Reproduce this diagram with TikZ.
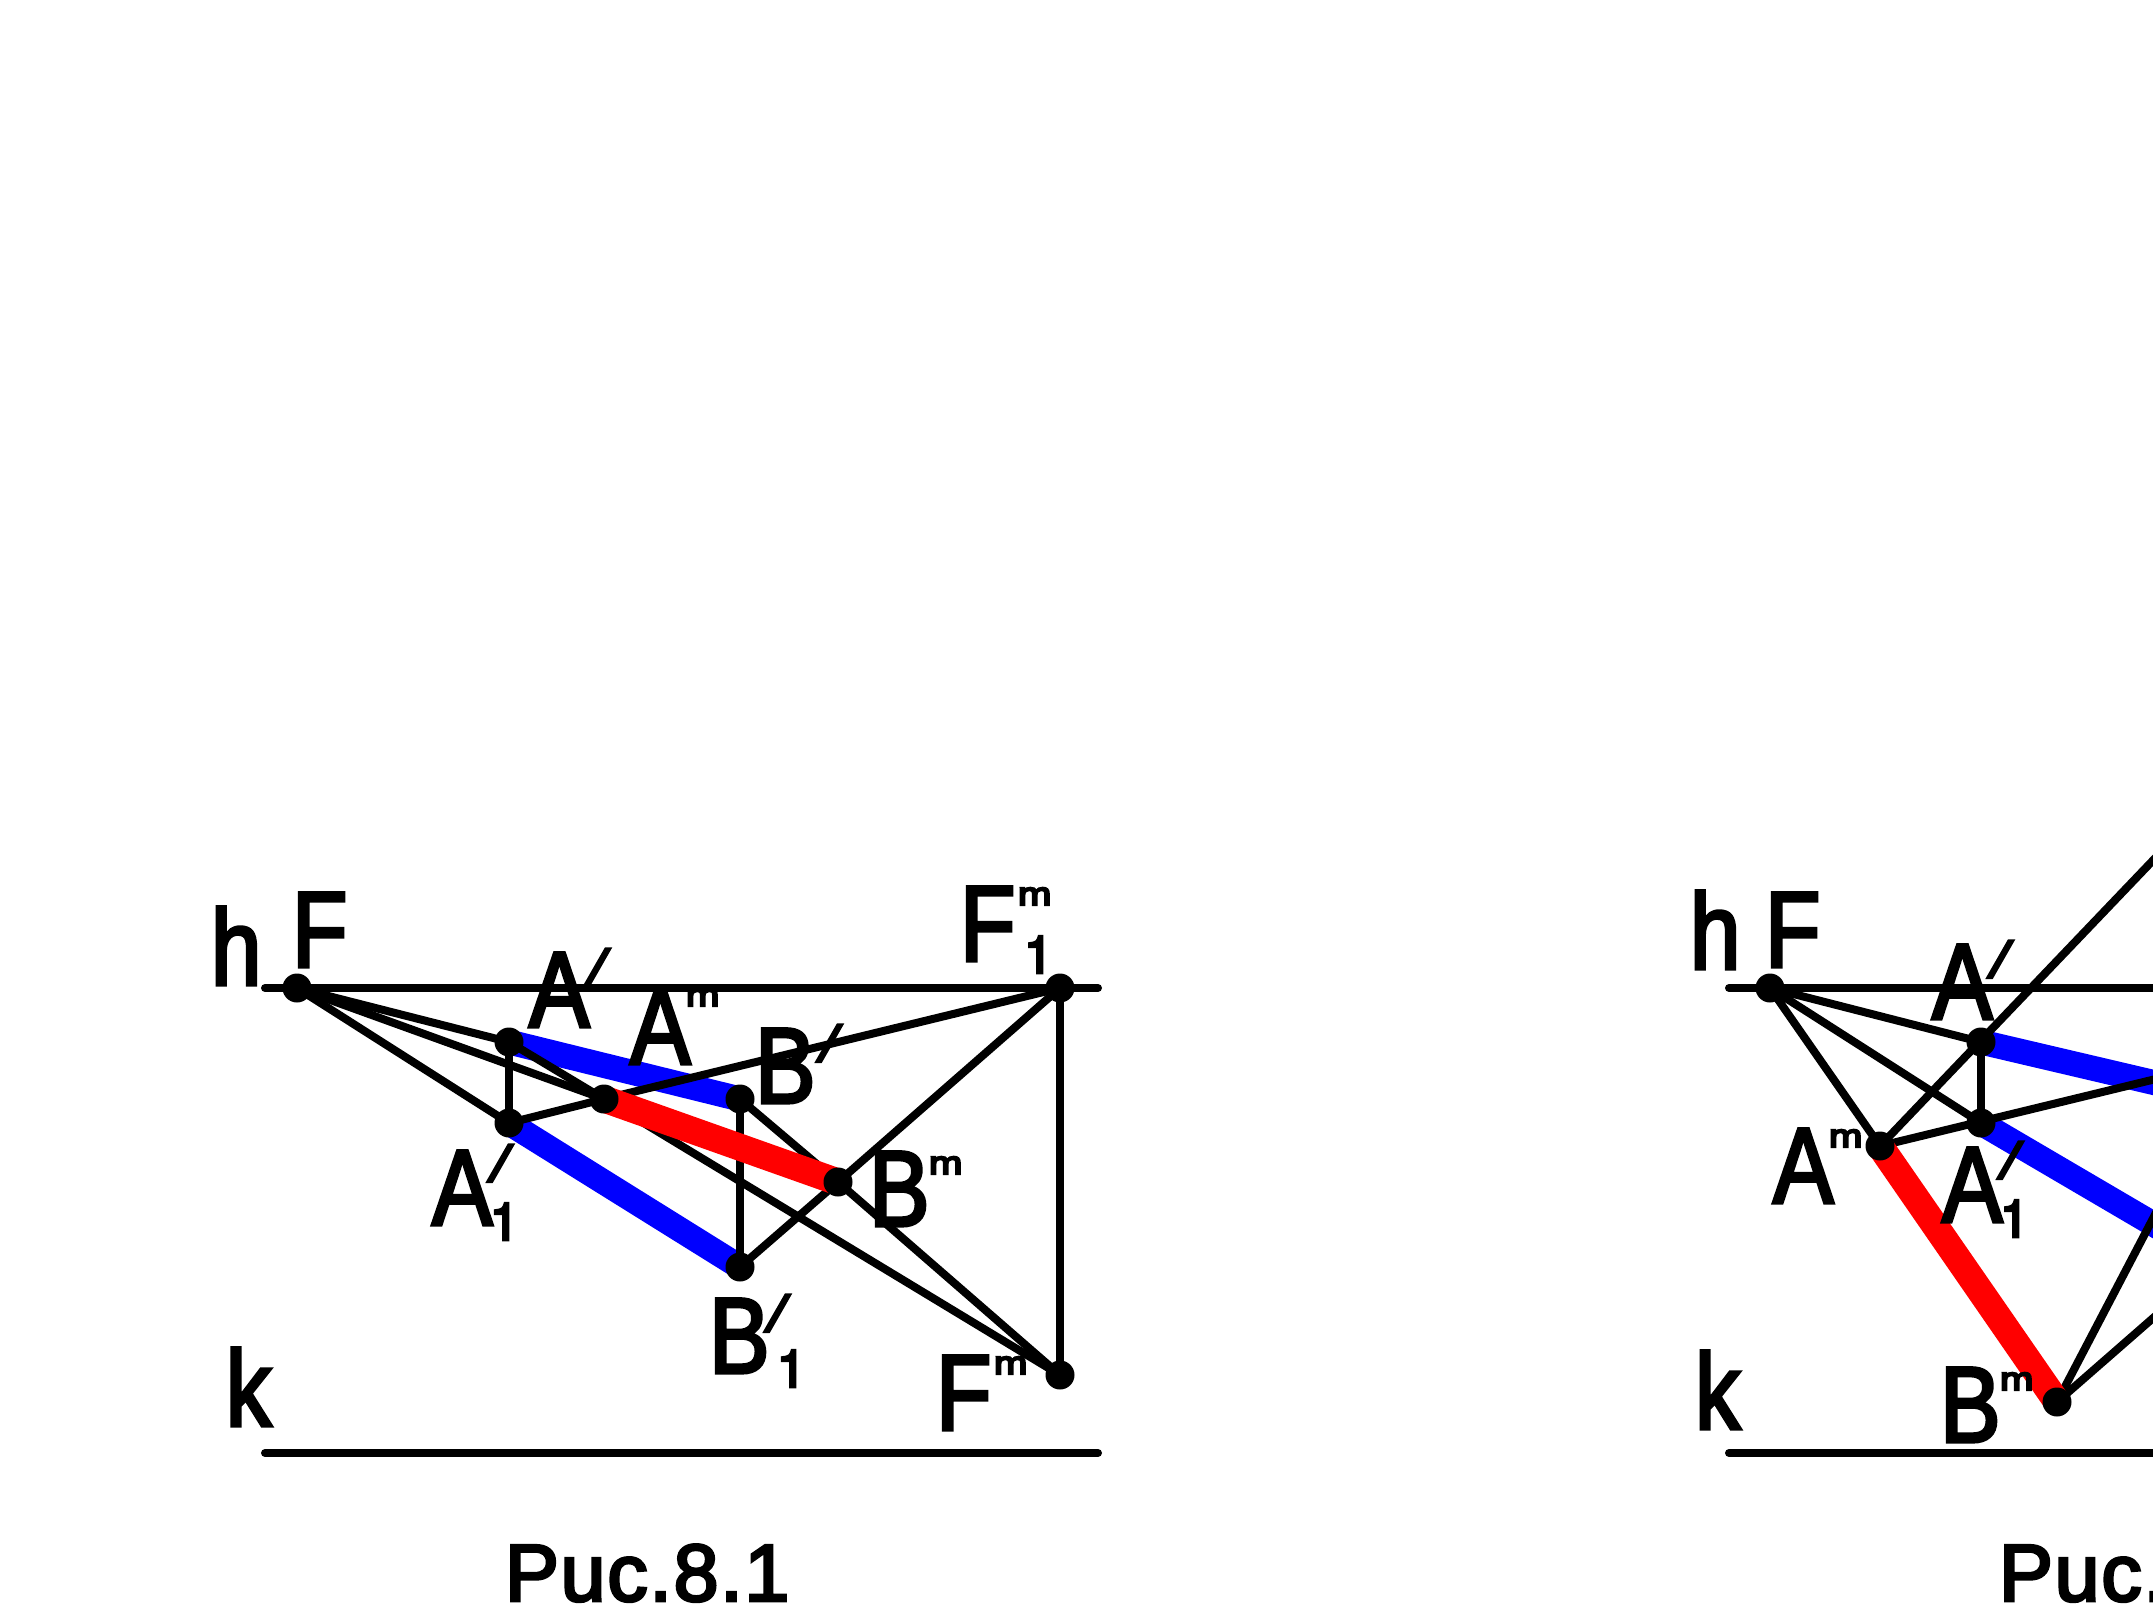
\documentclass[tikz,border=0pt]{standalone}
\usepackage{fontspec}
\setmainfont{Liberation Sans}
\newfontfamily\mainf[FakeBold=3,FakeStretch=0.84]{Liberation Sans}
\newfontfamily\tickf[FakeBold=6,FakeSlant=0.3]{Liberation Sans}
\newfontfamily\markf[FakeBold=7,FakeStretch=1.25]{Liberation Sans}
\newfontfamily\onef[FakeBold=5]{TeX Gyre Heros}
\newfontfamily\capf[FakeBold=3.5,LetterSpace=2]{Liberation Sans}
\newcommand\biglett{\mainf\fontsize{108}{108}\selectfont}
\newcommand\capt{\capf\fontsize{81}{81}\selectfont}
\newcommand\ovl[3]{\rlap{\kern #1pt\raise #2pt\hbox{#3}}}
\newcommand\lett[2]{\setbox0\hbox{#1}\copy0\kern-\wd0 #2\kern\wd0 }
\newcommand\tk[2]{\ovl{#1}{#2}{\tickf\fontsize{50}{50}\selectfont /}}
\newcommand\tm[2]{\ovl{#1}{#2}{\markf\fontsize{32}{32}\selectfont m}}
\newcommand\subn[2]{\ovl{#1}{#2}{\onef\fontsize{52}{52}\selectfont 1}}
\tikzset{
  lab/.style={font=\biglett,anchor=base west,inner sep=0pt,outer sep=0pt},
  captext/.style={font=\capt,anchor=base west,inner sep=0pt,outer sep=0pt,text depth=0pt},
  dot/.style={circle,fill=black,minimum size=29pt,inner sep=0pt,outer sep=0pt},
  ln/.style={draw=black,line width=8pt,line cap=round},
  bluel/.style={draw=blue,line width=25pt},
  redl/.style={draw=red,line width=27pt},
}
\begin{document}
\begin{tikzpicture}[x=1pt,y=-1pt]
\useasboundingbox (0,0) rectangle (2153,1606);
\clip (0,0) rectangle (2153,1606);
\fill[white] (0,0) rectangle (2153,1606);
% ---- left figure points
\coordinate (hL) at (265,988);
\coordinate (hR) at (1098,988);
\coordinate (kL) at (265,1453);
\coordinate (kR) at (1098,1453);
\coordinate (F) at (297,988);
\coordinate (Fa) at (1060,988);
\coordinate (Fb) at (1060,1375);
\coordinate (A) at (509,1042);
\coordinate (Aa) at (509,1123);
\coordinate (Ab) at (604,1099);
\coordinate (B) at (740,1099);
\coordinate (Ba) at (740,1267);
\coordinate (Bb) at (838,1182);
% ---- right figure points
\coordinate (hL2) at (1729,988);
\coordinate (hR2) at (2153,988);
\coordinate (kL2) at (1729,1453);
\coordinate (kR2) at (2153,1453);
\coordinate (F2) at (1770,988);
\coordinate (A2) at (1981,1042);
\coordinate (Aa2) at (1981,1123);
\coordinate (Ab2) at (1880,1146);
\coordinate (Bb2) at (2057,1402);
\coordinate (top2) at (2160,853);
\coordinate (e1) at (2160,1084);
\coordinate (e2) at (2160,1228);
\coordinate (e3) at (2160,1078);
\coordinate (e4) at (2160,1205);
\coordinate (e5) at (2160,1312);
% blue
\draw[bluel] (A) -- (B);
\draw[bluel] (Aa) -- (Ba);
\draw[bluel] (A2) -- (e1);
\draw[bluel] (Aa2) -- (e2);
% black left
\draw[ln] (hL) -- (hR);
\draw[ln] (kL) -- (kR);
\draw[ln] (F) -- (A);
\draw[ln] (F) -- (Ab);
\draw[ln] (F) -- (Aa);
\draw[ln] (A) -- (Aa);
\draw[ln] (A) -- (Ab);
\draw[ln] (Aa) -- (Ab);
\draw[ln] (Ab) -- (Fa);
\draw[ln] (Ab) -- (Fb);
\draw[ln] (B) -- (Ba);
\draw[ln] (B) -- (Bb);
\draw[ln] (Bb) -- (Fb);
\draw[ln] (Ba) -- (Bb);
\draw[ln] (Bb) -- (Fa);
\draw[ln] (Fa) -- (Fb);
% black right
\draw[ln] (hL2) -- (hR2);
\draw[ln] (kL2) -- (kR2);
\draw[ln] (F2) -- (A2);
\draw[ln] (F2) -- (Aa2);
\draw[ln] (F2) -- (Ab2);
\draw[ln] (A2) -- (Aa2);
\draw[ln] (Ab2) -- (top2);
\draw[ln] (Ab2) -- (e3);
\draw[ln] (Bb2) -- (e4);
\draw[ln] (Bb2) -- (e5);
% red
\draw[redl] (Ab) -- (Bb);
\draw[redl] (Ab2) -- (Bb2);
% dots
\foreach \p in {F,Fa,Fb,A,Aa,Ab,B,Ba,Bb,F2,A2,Aa2,Ab2,Bb2}
  \node[dot] at (\p) {};
% labels left
\node[lab] at (211,985) {h};
\node[lab] at (292,967) {F};
\node[lab] at (529,1027) {\lett{A}{\tk{56}{42}}};
\node[lab] at (630,1064) {\lett{A}{\tm{56}{58}}};
\node[lab] at (755,1103) {\lett{B}{\tk{62}{42}}};
\node[lab] at (869,1226) {\lett{B}{\tm{60}{52}}};
\node[lab] at (432,1225) {\lett{A}{\tk{56}{44}\subn{58}{-15}}};
\node[lab] at (709,1373) {\lett{B}{\tk{56}{42}\subn{68}{-14}}};
\node[lab] at (960,961) {\lett{F}{\tm{58}{56}\subn{64}{-12}}};
\node[lab] at (936,1430) {\lett{F}{\tm{58}{56}}};
\node[lab] at (226,1426) {k};
\node[captext] at (505,1601) {Puc.8.1};
% labels right
\node[lab] at (1690,969) {h};
\node[lab] at (1765,967) {F};
\node[lab] at (1695,1429) {k};
\node[lab] at (1932,1019) {\lett{A}{\tk{56}{42}}};
\node[lab] at (1773,1203) {\lett{A}{\tm{56}{56}}};
\node[lab] at (1942,1222) {\lett{A}{\tk{56}{44}\subn{58}{-15}}};
\node[lab] at (1940,1442) {\lett{B}{\tm{60}{52}}};
\node[captext] at (1999,1601) {Puc.};
\end{tikzpicture}
\end{document}
